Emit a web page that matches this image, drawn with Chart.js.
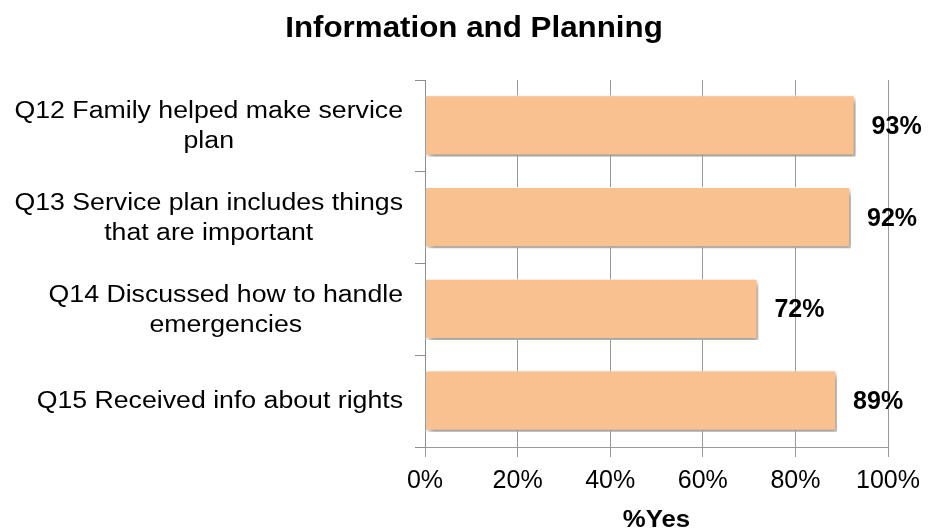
<!DOCTYPE html>
<html>
<head>
<meta charset="utf-8">
<title>Information and Planning</title>
<script src="https://cdn.jsdelivr.net/npm/chart.js@4.4.0/dist/chart.umd.min.js"></script>
<style>
  html, body { margin: 0; padding: 0; background: #ffffff; }
  #chart { display: block; }
</style>
</head>
<body>
<canvas id="chart" width="929" height="532"></canvas>
<script>
var questionLabels = [
  ["Q12 Family helped make service", "plan"],
  ["Q13 Service plan includes things", "that are important"],
  ["Q14 Discussed how to handle", "emergencies"],
  ["Q15 Received info about rights"]
];
var yesPercent = [93, 92, 72, 89];
var xTicks = [0, 20, 40, 60, 80, 100];

var fontFamily = "'Liberation Sans', Arial, sans-serif";

// text drawn a little wider than the font's natural width
function drawWide(ctx, text, x, y, sx) {
  ctx.save();
  ctx.translate(x, y);
  ctx.scale(sx, 1);
  ctx.fillText(text, 0, 0);
  ctx.restore();
}

var textPlugin = {
  id: "textPlugin",
  beforeDatasetsDraw: function(chart) {
    var ctx = chart.ctx;
    ctx.save();
    ctx.shadowColor = "rgba(0,0,0,0.4)";
    ctx.shadowBlur = 6;
    ctx.shadowOffsetX = 3;
    ctx.shadowOffsetY = 4;
  },
  afterDatasetsDraw: function(chart) {
    var ctx = chart.ctx;
    ctx.restore();

    // value labels at the end of each bar
    ctx.save();
    ctx.fillStyle = "#000000";
    ctx.font = "bold 25px " + fontFamily;
    ctx.textAlign = "left";
    ctx.textBaseline = "middle";
    var meta = chart.getDatasetMeta(0);
    meta.data.forEach(function(bar, i) {
      ctx.fillText(yesPercent[i] + "%", bar.x + 16, bar.y + 1);
    });
    ctx.restore();
  },
  afterDraw: function(chart) {
    var ctx = chart.ctx;
    var xScale = chart.scales.x;
    var yScale = chart.scales.y;
    ctx.save();
    ctx.fillStyle = "#000000";
    ctx.textBaseline = "middle";
    ctx.textAlign = "center";

    ctx.font = "bold 29px " + fontFamily;
    drawWide(ctx, "Information and Planning", 474, 29, 1.08);

    ctx.font = "bold 23px " + fontFamily;
    drawWide(ctx, "%Yes", (xScale.left + xScale.right) / 2, 521, 1.12);

    // wrapped question labels, each block right-aligned, lines centred
    ctx.font = "23px " + fontFamily;
    var sx = 1.16;
    var rightEdge = 403;
    var lineGap = 30;
    questionLabels.forEach(function(lines, i) {
      var widest = 0;
      lines.forEach(function(l) { widest = Math.max(widest, ctx.measureText(l).width * sx); });
      var cx = rightEdge - widest / 2;
      var cy = yScale.getPixelForValue(i) + 1 - (lines.length - 1) * lineGap / 2;
      lines.forEach(function(l, j) {
        drawWide(ctx, l, cx, cy + j * lineGap, sx);
      });
    });
    ctx.restore();
  }
};

new Chart(document.getElementById("chart"), {
  type: "bar",
  data: {
    labels: questionLabels.map(function(l) { return l.join(" "); }),
    datasets: [{
      data: yesPercent,
      backgroundColor: "#f9c090",
      borderColor: "#ffffff",
      borderWidth: { top: 1, right: 2, bottom: 2, left: 0 },
      borderSkipped: false,
      barPercentage: 0.67,
      categoryPercentage: 1.0
    }]
  },
  options: {
    indexAxis: "y",
    responsive: false,
    animation: false,
    layout: { padding: { top: 80, right: 38, left: 0, bottom: 0 } },
    plugins: {
      legend: { display: false },
      title: { display: false },
      tooltip: { enabled: false }
    },
    scales: {
      x: {
        min: 0,
        max: 100,
        afterBuildTicks: function(scale) {
          scale.ticks = xTicks.map(function(v) { return { value: v }; });
        },
        afterFit: function(scale) { scale.height = 85; },
        grid: {
          color: "#9a9a9a",
          lineWidth: 1,
          drawTicks: true,
          tickLength: 10
        },
        border: { color: "#9a9a9a" },
        ticks: {
          color: "#000000",
          padding: 9,
          font: { family: fontFamily, size: 25 },
          callback: function(v) { return v + "%"; }
        }
      },
      y: {
        afterFit: function(scale) { scale.width = 425; },
        grid: {
          offset: true,
          drawOnChartArea: false,
          drawTicks: true,
          tickLength: 10,
          color: "#8e8e8e"
        },
        border: { color: "#8e8e8e" },
        ticks: { display: false }
      }
    }
  },
  plugins: [textPlugin]
});
</script>
</body>
</html>
